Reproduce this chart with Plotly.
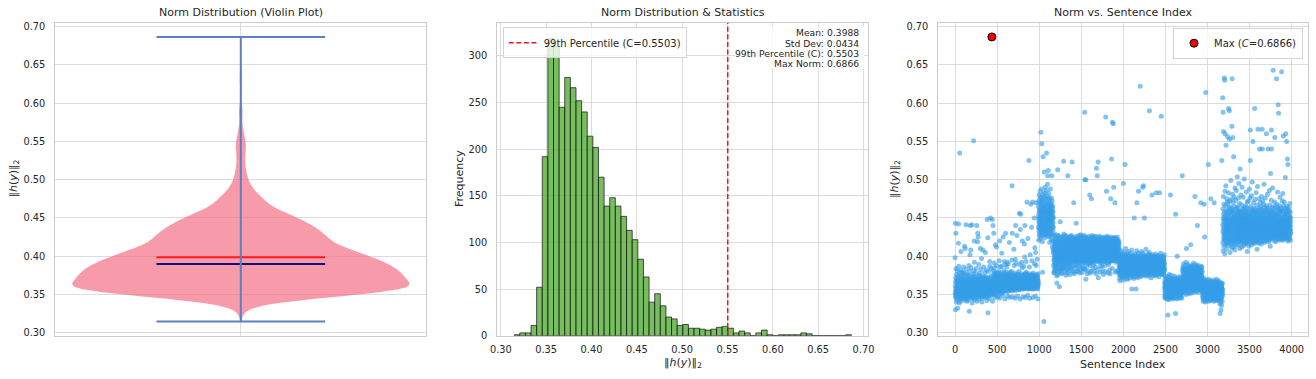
import numpy as np
import plotly.graph_objects as go

# ------------------------------------------------------------------ data
# Histogram of ||h(y)||_2 : 60 equal bins starting at the minimum norm
BIN_START = 0.3147
BIN_WIDTH = 0.0062
HIST_COUNTS = [1, 3, 3, 11, 52, 192, 319, 310, 245, 277,
               266, 252, 240, 214, 202, 170, 139, 148, 139, 128,
               113, 103, 82, 63, 36, 45, 32, 20, 18, 11,
               12, 8, 8, 7, 6, 7, 9, 10, 8, 3,
               5, 3, 0, 3, 6, 1, 0, 1, 1, 1,
               1, 3, 2, 0, 0, 0, 0, 0, 0, 1]

# Summary statistics (from the figure's text box)
NORM_MEAN = 0.3988
NORM_STD = 0.0434
NORM_P99 = 0.5503
NORM_MAX = 0.6866
NORM_MIN = 0.3147
NORM_MEDIAN = 0.3898

# Norm per sentence.
# Each code is (norm - 0.300) * 1000; every segment starts at the given sentence index.
SEG_START = [0, 450, 990, 1170, 1950, 2490, 2700, 2940, 3180]

SEG_A1 = """
98 52 61 30 143 47 66 55 72 49 130 58 84 44 57 69 51 40 76 54 48 65 59 53 81 62 50 56 70 45
57 32 64 51 59 74 46 62 55 67 117 142 53 87 49 71 58 43 65 39 61 78 56 48 63 235 54 68 50 59
62 47 56 73 53 66 41 82 64 50 106 57 69 52 61 46 58 75 54 79 49 60 67 55 44 71 57 52 64 58
51 63 57 70 48 61 54 79 59 45 66 52 86 56 73 50 58 64 47 77 55 68 53 113 57 49 65 61 42 56
110 55 67 50 59 63 46 72 57 53 141 61 48 66 83 52 77 56 63 44 60 54 69 51 41 57 47 74 59 65
53 60 46 68 56 62 50 75 58 43 64 55 71 49 88 57 66 52 59 28 63 48 70 80 54 67 51 102 58 61
140 58 64 51 57 70 108 47 85 55 66 53 60 73 49 58 65 56 45 61 141 52 68 39 63 50 76 55 62 57
61 49 66 56 72 53 59 45 64 58 251 51 69 81 62 48 74 55 120 60 92 52 58 43 63 70 56 61 50 67
56 62 53 78 59 47 65 57 51 68 84 54 71 46 63 58 52 66 140 55 61 49 73 41 64 53 59 119 50 62
130 53 67 58 125 49 62 55 71 57 44 64 89 52 69 56 61 48 75 58 54 65 51 78 63 57 70 47 62 55
110 58 63 50 66 56 83 73 53 59 47 68 55 62 57 97 52 64 49 40 58 71 54 65 59 45 62 56 67 53
108 60 55 69 52 63 58 47 74 86 61 53 66 59 50 64 57 72 54 62 48 67 55 79 63 51 70 57 61 105
57 51 64 59 70 54 61 46 66 58 55 73 52 82 63 49 68 57 62 42 59 65 148 50 71 56 62 53 58 124
26 58 62 55 67 50 60 80 72 53 64 48 59 66 56 61 45 69 58 63 52 93 55 87 57 68 51 64 59 54
61 150 57 66 52 63 58 74 55 84 49 67 56 62 53 70 59 386.6 57 64 51 61 148 68 55 41 63 50 66 57
"""

SEG_A2 = """
140 67 58 74 62 81 55 69 64 52 130 71 60 77 91 57 63 85 59 70 65 50 73 46 68 56 79 64 60 72
115 63 70 57 66 76 60 53 68 64 72 58 112 61 88 55 74 62 69 48 65 71 59 78 63 56 70 47 61 75
64 59 73 66 54 69 62 80 57 67 63 75 60 71 52 94 68 58 77 63 120 45 70 55 66 73 59 64 86 62
69 56 65 72 61 78 58 67 63 51 74 87 60 70 57 104 64 62 68 55 71 65 59 76 49 66 53 72 60 67
125 61 70 64 57 75 66 60 81 63 69 54 72 65 59 93 62 78 56 68 63 71 58 74 44 61 89 64 57 70
130 65 59 72 62 68 55 76 64 70 61 58 79 66 86 73 57 67 60 92 65 71 62 54 69 48 75 59 68 63
66 72 60 90 58 77 63 69 55 71 65 61 74 67 59 118 62 70 64 57 73 46 60 68 63 79 56 71 65 62
62 69 57 74 65 60 71 63 67 58 80 64 70 61 95 55 73 192 68 62 130 59 76 47 69 61 72 56 67 63
71 64 60 68 75 58 66 62 109 65 70 57 73 88 61 69 66 78 59 64 71 55 68 45 74 60 67 96 63 70
140 61 72 91 59 70 64 76 57 68 63 73 60 65 127 62 69 58 74 66 61 71 48 56 77 63 67 60 72 65
63 70 58 67 73 61 65 59 80 64 69 62 56 75 156 89 60 71 63 68 57 74 65 44 70 64 135 59 67 62
155 66 61 73 64 58 69 63 77 60 71 92 62 68 57 74 66 60 85 64 120 67 59 72 63 70 61 47 58 75
60 73 65 62 69 57 76 87 61 70 66 59 72 63 116 67 60 68 99 65 140 62 74 58 67 46 71 60 78 66
68 62 75 60 93 71 58 64 79 63 69 61 73 65 171 60 67 62 76 59 70 49 57 72 66 63 123 68 61 74
64 71 59 67 62 74 66 60 225 70 63 77 58 86 72 61 68 45 57 73 66 62 102 69 60 75 63 67 59 71
168 63 70 66 58 73 61 69 64 138 60 67 72 94 65 59 76 63 70 57 68 171 64 61 74 46 60 71 63 78
65 60 72 63 68 58 75 66 61 70 150 64 57 73 90 62 69 60 111 65 71 63 59 74 48 62 68 105 61 70
170 67 62 71 88 59 76 63 68 61 73 66 58 70 65 96 62 67 60 74 64 69 57 72 44 61 77 63 68 65
"""

SEG_B = """
152 138 165 121 147 171 133 156 142 180 127 161 149 136 174 144 158 129 168 151 139 185 146 123 160 153 134 177 141 163
262 148 131 170 155 143 188 126 159 137 247 150 166 132 176 145 157 119 172 140 79 163 135 154 181 230 142 167 128 158
149 173 137 161 144 14.7 156 130 178 152 210 139 165 124 183 147 159 134 169 143 155 190 128 162 151 138 175 146 133 166
141 157 186 131 164 150 136 235 172 145 160 127 179 153 140 168 132 158 194 147 205 138 163 151 129 176 144 156 212 135
170 148 125 161 154 139 182 146 133 167 158 142 175 118 152 163 137 149 171 130 156 144 188 126 160 151 135 165 143 157
131 168 147 155 122 176 140 159 136 164 205 150 128 172 145 157 112 162 139 153 166 120 149 134 158 143 107 151 138 129
"""

SEG_C = """
104 88 121 95 110 79 116 99 78 91 107 113 85 126 101 94 118 108 82 103 81 97 114 90 123 105 87 111 98 119
96 115 84 107 128 100 92 119 106 74 65 112 98 124 89 103 117 95 76 110 213 86 101 122 93 114 105 81 127 99
111 93 126 103 87 118 100 79 96 109 60 121 90 106 115 83 102 95 97 113 145 92 108 120 85 104 116 99 83 94
117 101 89 124 106 95 77 110 84 103 121 98 112 78 107 126 93 115 102 119 88 109 84 97 114 104 91 123 100 86
224 108 96 129 103 117 90 112 125 99 106 83 120 101 114 95 80 109 87 118 104 127 93 111 100 122 98 115 75 89
102 119 94 110 126 85 107 116 99 123 113 91 105 78 97 118 102 88 124 108 205 96 114 103 82 92 110 120 81 106
113 98 121 106 90 97 101 115 94 109 119 87 104 125 99 112 76 96 108 117 103 92 126 110 97 116 84 122 105 100
91 114 103 127 98 110 86 120 107 116 223 101 124 95 111 104 81 93 118 99 109 123 88 106 119 102 79 97 113 105
170 102 117 94 111 122 99 108 77 96 114 89 125 103 110 97 120 106 85 116 101 93 93 109 118 100 123 95 112 143
100 124 107 92 115 104 119 97 80 110 87 113 102 126 95 108 121 99 111 80 117 104 83 96 106 122 101 114 90 118
107 96 120 111 99 127 103 116 92 109 124 101 88 115 106 78 98 112 119 94 105 128 100 113 97 121 83 110 125 103
119 104 94 123 108 100 117 90 113 79 97 106 121 102 115 86 111 126 99 109 120 95 114 103 84 92 107 118 101 111
98 116 105 121 93 112 127 100 109 84 288 200 119 96 114 103 124 91 108 82 99 115 106 122 70 200 101 117 94 110
125 99 113 106 120 88 110 101 77 97 116 104 123 93 107 118 100 95 95 112 105 81 98 114 102 121 90 109 117 103
106 122 97 114 101 126 92 111 118 99 180 108 121 95 113 104 78 88 116 102 110 124 96 107 80 100 115 93 119 105
175 103 118 95 110 124 99 106 114 91 127 102 117 98 109 121 94 113 104 84 97 111 125 100 116 89 108 120 96 112
101 115 108 123 94 111 99 80 105 117 92 109 120 103 114 97 126 100 112 86 118 106 122 95 110 77 102 116 98 107
215 98 112 121 96 108 117 101 125 93 205 114 103 119 99 110 83 95 107 116 223 100 72 113 104 122 97 111 118 102
114 101 123 97 109 118 92 112 126 100 106 115 94 121 103 79 98 110 117 87 113 104 124 99 108 119 95 111 102 92
103 117 95 110 122 99 113 106 87 120 101 116 97 81 105 111 93 119 104 124 96 109 115 100 76 107 98 118 103 112
97 109 120 102 114 93 125 106 117 99 111 88 122 104 113 100 80 95 108 119 282 101 116 94 110 123 98 114 105 121
185 100 111 124 96 107 118 103 114 91 126 99 109 120 102 115 94 112 78 105 97 117 106 121 100 113 89 110 124 98
108 119 99 113 105 82 94 110 116 101 122 96 112 107 77 100 118 93 109 125 175 103 114 97 120 106 111 94 99 227
102 115 96 121 108 99 117 105 84 94 275 112 103 119 98 110 123 101 114 95 273 107 118 100 124 190 96 113 106 120
111 98 124 103 116 95 109 121 100 113 170 106 97 118 104 79 99 112 119 92 108 115 101 123 96 110 117 103 81 105
99 113 106 122 94 117 103 110 125 97 115 101 108 120 95 112 106 119 100 80 93 114 104 121 98 111 118 102 109 116
"""

SEG_D = """
88 76 97 83 92 71 101 85 79 94 87 68 99 81 90 77 104 86 74 93 82 96 89 75 91 84 107 80 95 86
93 81 74 99 86 90 78 103 84 95 72 88 97 80 91 85 76 100 83 92 195 79 94 87 69 98 82 90 105 77
85 97 80 91 76 102 88 83 95 73 220 89 99 81 93 78 86 110 84 92 75 96 87 79 101 90 82 94 71 88
96 79 89 84 104 77 92 86 98 81 74 95 87 91 70 100 83 97 78 93 88 82 106 85 76 94 89 80 99 86
82 93 101 76 88 95 80 90 85 72 97 84 91 79 103 87 78 94 83 99 89 74 92 86 81 96 77 108 85 90
57 86 79 96 90 83 99 75 88 93 81 102 84 77 95 89 73 91 86 98 80 94 87 71 100 82 92 85 97 78
150 91 84 97 76 89 82 103 87 94 79 86 99 73 92 85 96 81 88 78 57 93 83 100 89 76 95 84 90 107
170 80 94 86 101 78 91 84 97 72 89 95 82 88 99 75 92 85 80 104 185 87 93 78 96 83 90 74 98 86
92 85 78 96 83 100 89 76 94 87 322 81 98 84 91 73 95 88 79 102 86 93 77 90 97 82 106 85 91 80
84 97 88 79 93 86 75 99 82 91 190 85 96 78 104 87 92 80 89 95 192 83 98 76 90 85 94 81 100 87
150 88 81 95 86 92 77 98 84 90 79 101 87 93 74 96 83 89 109 80 94 86 78 97 91 82 99 85 76 93
89 95 80 87 97 83 91 76 100 86 93 79 88 96 82 103 85 90 74 94 87 81 98 84 92 78 95 88 83 105
290 83 96 88 79 92 85 99 81 94 87 76 101 90 84 97 80 89 93 72 96 86 82 100 88 91 78 95 85 98
180 90 84 97 78 93 86 81 102 88 95 79 91 85 99 83 96 75 89 94 82 87 100 80 92 86 97 84 77 91
95 81 88 100 85 91 77 96 83 89 74 98 86 92 80 103 87 94 79 90 183 85 97 82 93 88 76 99 84 96
87 93 82 98 89 76 95 84 91 80 97 86 101 83 88 94 78 92 85 99 81 96 87 73 94 90 83 100 86 79
183 86 95 80 91 84 99 88 77 96 82 93 87 104 81 90 95 78 89 85 283 92 80 97 84 91 86 76 98 88
91 84 97 79 88 95 82 100 86 93 78 90 87 96 81 99 85 92 76 94 89 83 98 80 93 87 102 84 90 82
"""

SEG_E1 = """
58 66 47 62 54 71 50 60 45 64 57 74 52 61 48 67 55 63 69 46 59 65 51 62 56 72 53 44 62 57
61 50 68 56 45 64 53 70 49 59 23 66 54 48 63 58 73 51 60 43 57 67 52 62 55 76 50 61 58 47
64 53 59 48 70 57 52 66 46 62 180 56 51 68 45 60 57 75 53 59 64 49 62 55 71 58 47 61 54 66
52 63 58 69 47 60 55 65 44 59 53 72 50 61 57 67 48 58 63 54 70 56 49 66 59 46 62 57 74 52
58 49 64 55 68 51 60 57 65 46 25 155 59 53 71 48 58 63 55 67 50 61 57 44 64 54 59 69 51 62
100 56 50 66 59 47 63 55 72 52 60 57 65 48 58 54 70 59 45 62 56 68 53 61 57 49 64 58 51 73
55 63 48 59 66 53 61 57 46 65 58 51 69 56 62 47 60 54 71 58 50 64 55 60 45 67 57 53 62 59
"""

SEG_E2 = """
205 72 58 81 65 53 86 70 62 77 56 83 68 74 60 90 64 71 55 79 67 61 84 73 57 76 66 70 63 82
65 76 55 84 70 61 79 52 73 88 64 69 59 81 75 50 77 68 92 60 110 72 63 80 66 55 85 74 58 76
68 80 60 75 53 83 71 64 89 57 74 66 78 62 70 85 56 76 67 59 81 65 72 51 87 69 77 61 71 63
74 58 82 66 76 60 79 54 72 86 115 67 63 78 57 84 70 65 75 52 80 73 59 88 67 78 61 71 56 83
65 75 69 81 58 77 62 87 71 55 73 82 64 68 91 60 76 70 57 80 63 74 66 84 53 72 79 62 69 85
178 70 59 78 65 74 56 82 69 76 61 89 71 58 80 66 75 60 86 68 54 77 72 64 81 59 70 87 65 74
140 63 80 69 57 83 72 65 76 59 88 70 62 78 67 53 82 73 64 71 56 84 68 77 60 75 66 81 58 72
67 77 61 84 70 57 75 65 81 60 170 71 79 64 87 58 74 69 55 82 66 76 60 73 86 63 70 56 80 65
"""

SEG_E3 = """
56 48 63 52 70 45 59 66 41 54 61 50 67 57 44 62 53 71 47 58 168 51 64 43 60 55 125 49 65 57
52 62 46 68 55 40 59 64 50 57 314 47 61 53 69 44 58 63 51 56 66 42 60 54 48 65 57 50 62 45
59 53 67 46 61 56 43 64 51 58 220 49 63 55 70 41 57 62 48 54 66 52 60 45 58 64 50 55 61 47
62 54 45 60 52 68 49 57 63 42 175 55 59 47 65 53 61 44 58 50 67 56 48 63 51 59 46 62 54 57
50 64 55 43 61 57 48 66 52 59 45 62 54 69 47 58 53 63 41 56 170 51 60 46 65 55 49 61 53 58
57 46 63 52 59 44 67 54 49 61 56 42 64 51 58 47 62 55 70 48 53 60 45 57 66 50 59 43 55 62
48 60 54 65 43 57 51 63 46 59 55 68 50 42 61 53 58 47 64 56 44 62 52 57 49 66 54 38 60 51
25 56 63 48 59 45 61 53 40 57 30 64 50 55 44 62 52 58 36 60 225 47 63 54 41 57 65 49 56 52
"""

SEG_F = """
307 141 118 162 132 288 107 149 136 178 263 124 155 113 145 168 129 151 121 140 333 127 158 134 103 330 147 137 185 122
260 153 128 143 115 166 124 139 192 130 245 148 119 157 135 109 150 133 175 141 126 160 117 146 131 171 136 121 154 139
256 125 144 169 118 138 152 131 183 122 293 142 158 114 134 147 128 163 139 120 290 149 253 124 172 135 145 105 156 130
143 121 164 133 116 153 137 199 127 146 131 174 119 140 157 125 145 111 162 134 270 150 332 123 141 160 132 181 118 148
255 139 126 156 144 112 170 133 123 151 230 137 159 120 143 130 177 116 148 135 127 165 142 108 154 131 146 189 124 140
152 125 145 134 173 118 150 138 129 161 114 147 133 186 122 155 140 127 151 136 119 164 143 130 204 124 152 137 158 128
135 163 121 148 130 156 141 115 176 133 126 152 137 195 119 158 142 129 147 123 169 134 144 110 155 139 125 214 149 131
146 127 159 136 117 153 142 131 180 122 149 138 157 120 135 167 129 143 112 151 137 190 126 147 134 162 123 141 156 130
140 156 124 147 133 177 119 150 137 130 160 114 144 136 154 126 142 201 121 149 132 164 117 145 138 128 158 123 151 134
126 149 138 166 120 143 132 155 116 148 135 184 124 141 159 130 146 118 153 137 127 171 142 106 150 133 163 122 144 136
157 131 122 148 140 172 117 137 152 128 145 123 161 134 113 155 139 127 188 147 132 119 153 138 176 125 143 130 150 225
265 136 152 124 144 165 129 140 120 157 137 148 126 179 133 115 154 142 131 161 122 146 138 197 128 150 118 159 139 132
250 142 125 158 136 147 119 170 131 149 139 123 155 144 128 163 117 137 151 133 293 124 147 140 174 130 156 121 145 138
148 132 161 126 142 156 120 139 183 134 150 118 144 159 129 137 123 153 143 109 167 133 149 125 191 140 157 122 136 146
266 138 128 151 124 160 143 134 117 154 145 129 175 137 121 150 140 132 163 126 240 146 135 156 119 142 170 131 148 138
133 154 144 122 165 137 127 147 116 158 139 178 125 143 152 131 161 120 140 149 266 240 134 155 126 145 138 172 129 150
143 124 159 135 150 129 168 120 144 137 156 126 194 140 133 148 118 157 139 130 164 123 147 134 153 141 125 176 137 145
132 151 138 122 160 143 127 149 135 166 260 125 154 140 120 146 137 162 131 150 141 122 181 139 148 129 157 124 142 135
240 136 147 128 155 141 123 162 133 150 139 119 158 144 129 186 138 122 153 145 132 167 126 149 136 113 155 140 134 208
149 131 160 139 125 154 142 134 173 128 265 240 145 137 157 123 151 141 132 164 124 147 138 189 130 158 143 127 150 136
343 141 125 152 137 146 130 163 121 150 139 133 157 127 147 140 171 129 145 136 255 124 154 142 134 165 128 148 138 119
138 155 129 147 124 160 140 134 151 127 332 144 135 168 122 149 139 131 158 142 126 146 137 184 129 153 142 133 163 123
298 134 153 141 125 287 144 132 161 127 148 138 121 156 145 129 166 137 123 151 140 131 177 126 147 139 159 130 143 136
146 127 157 138 130 150 141 124 163 134 341 145 128 154 137 122 148 139 172 132 140 125 160 144 129 182 136 151 121 143
257 140 124 158 134 147 129 166 138 126 152 143 133 171 123 149 137 141 128 162 139 130 155 146 125 203 135 148 132 154
260 129 151 138 124 160 143 132 155 140 250 126 147 136 165 131 145 122 157 139 227 141 134 150 128 220 161 137 120 146
137 156 128 147 141 131 164 124 150 138 144 129 159 135 123 152 142 133 169 127 148 139 130 157 140 121 151 135 145 131
"""

SEG_CODES = [SEG_A1, SEG_A2, SEG_B, SEG_C, SEG_D, SEG_E1, SEG_E2, SEG_E3, SEG_F]

TICKS_NORM = [0.30, 0.35, 0.40, 0.45, 0.50, 0.55, 0.60, 0.65, 0.70]
TICKS_FREQ = [0, 50, 100, 150, 200, 250, 300]
TICKS_INDEX = [0, 500, 1000, 1500, 2000, 2500, 3000, 3500, 4000]

# ------------------------------------------------------------------ derived
sent_idx, sent_norm = [], []
for start, codes in zip(SEG_START, SEG_CODES):
    vals = [0.300 + float(c) / 1000.0 for c in codes.split()]
    sent_idx.extend(range(start, start + len(vals)))
    sent_norm.extend(vals)
sent_idx = np.array(sent_idx)
sent_norm = np.array(sent_norm)
imax = int(np.argmax(sent_norm))

bin_centers = BIN_START + BIN_WIDTH * (np.arange(len(HIST_COUNTS)) + 0.5)
violin_samples = np.repeat(bin_centers, HIST_COUNTS)

# ------------------------------------------------------------------ layout geometry
W, H = 1316, 379
def px(x):
    return x / W
def py(y):
    return 1 - y / H

DOM_Y = [py(335.7), py(22.7)]
DOM_X1 = [px(55.3), px(426.3)]
DOM_X2 = [px(497.3), px(868.2)]
DOM_X3 = [px(938.3), px(1307.5)]

NORM_RANGE = [NORM_MIN - 0.05 * (NORM_MAX - NORM_MIN), NORM_MAX + 0.05 * (NORM_MAX - NORM_MIN)]
n_sent = len(sent_idx)
IDX_RANGE = [-0.05 * (n_sent - 1), 1.05 * (n_sent - 1)]

TEXT = '#262626'
GRID = '#dcdcdc'
SPINE = '#cccccc'
FONT = 'DejaVu Sans'

BLUE_LINE = '#5b7fc0'
VIOLIN_FILL = 'rgba(244,112,136,0.70)'
BAR_FILL = 'rgba(88,176,58,0.82)'
POINT_BLUE = 'rgba(54,158,232,0.62)'

fig = go.Figure()

# ---- violin panel
fig.add_trace(go.Violin(
    y=violin_samples, x0=1, width=0.5, bandwidth=NORM_STD * len(violin_samples) ** (-0.2),
    spanmode='manual', span=[NORM_MIN, NORM_MAX], points=False,
    fillcolor=VIOLIN_FILL, line=dict(color='rgba(244,112,136,0.0)', width=0),
    box_visible=False, meanline_visible=False, showlegend=False, hoverinfo='skip',
    xaxis='x', yaxis='y'))
fig.add_trace(go.Scatter(x=[0.875, 1.125], y=[NORM_MEAN, NORM_MEAN], mode='lines',
                         line=dict(color='#ff1a1a', width=2), showlegend=False, xaxis='x', yaxis='y'))
fig.add_trace(go.Scatter(x=[0.875, 1.125], y=[NORM_MEDIAN, NORM_MEDIAN], mode='lines',
                         line=dict(color='#10107a', width=2), showlegend=False, xaxis='x', yaxis='y'))
fig.add_trace(go.Scatter(x=[1, 1], y=[NORM_MIN, NORM_MAX], mode='lines',
                         line=dict(color=BLUE_LINE, width=2), showlegend=False, xaxis='x', yaxis='y'))
for v in (NORM_MIN, NORM_MAX):
    fig.add_trace(go.Scatter(x=[0.875, 1.125], y=[v, v], mode='lines',
                             line=dict(color=BLUE_LINE, width=2), showlegend=False, xaxis='x', yaxis='y'))

# ---- histogram panel
fig.add_trace(go.Bar(x=bin_centers, y=HIST_COUNTS, width=BIN_WIDTH,
                     marker=dict(color=BAR_FILL, line=dict(color='rgba(20,20,20,0.8)', width=0.9)),
                     showlegend=False, xaxis='x2', yaxis='y2'))
fig.add_trace(go.Scatter(x=[NORM_P99, NORM_P99], y=[0, 400], mode='lines',
                         line=dict(color='#e41a1c', width=1.5, dash='5px,2.6px'),
                         name='99th Percentile (C=%.4f)' % NORM_P99,
                         legend='legend', xaxis='x2', yaxis='y2'))

# ---- scatter panel
fig.add_trace(go.Scatter(x=sent_idx, y=sent_norm, mode='markers',
                         marker=dict(color=POINT_BLUE, size=5, line=dict(width=0)),
                         showlegend=False, xaxis='x3', yaxis='y3'))
fig.add_trace(go.Scatter(x=[sent_idx[imax]], y=[sent_norm[imax]], mode='markers',
                         marker=dict(color='#ff0000', size=8, line=dict(color='black', width=1)),
                         name='Max (<i>C</i>=%.4f)' % NORM_MAX, legend='legend2',
                         xaxis='x3', yaxis='y3'))

axis_common = dict(showline=True, linecolor=SPINE, linewidth=1.2, mirror=True,
                   showgrid=True, gridcolor=GRID, gridwidth=1, zeroline=False,
                   ticks='outside', tickcolor='rgba(0,0,0,0)', automargin=False,
                   tickfont=dict(family=FONT, size=9.8, color=TEXT))

fig.update_layout(
    width=W, height=H, margin=dict(l=0, r=0, t=0, b=0, autoexpand=False),
    paper_bgcolor='white', plot_bgcolor='white',
    font=dict(family=FONT, color=TEXT),
    xaxis=dict(axis_common, domain=DOM_X1, range=[0.725, 1.275], type='linear',
               tickvals=[1], showticklabels=False, ticklen=0, anchor='y'),
    yaxis=dict(axis_common, domain=DOM_Y, range=NORM_RANGE, tickvals=TICKS_NORM,
               tickformat='.2f', ticklen=7, anchor='x'),
    xaxis2=dict(axis_common, domain=DOM_X2, range=NORM_RANGE, tickvals=TICKS_NORM,
                tickformat='.2f', ticklen=4, anchor='y2'),
    yaxis2=dict(axis_common, domain=DOM_Y, range=[0, 335.7], tickvals=TICKS_FREQ,
                ticklen=7, anchor='x2'),
    xaxis3=dict(axis_common, domain=DOM_X3, range=IDX_RANGE, tickvals=TICKS_INDEX,
                ticklen=4, anchor='y3'),
    yaxis3=dict(axis_common, domain=DOM_Y, range=NORM_RANGE, tickvals=TICKS_NORM,
                tickformat='.2f', ticklen=7, anchor='x3'),
    legend=dict(x=px(502.7), y=py(27.3), xanchor='left', yanchor='top',
                bgcolor='rgba(255,255,255,0.8)', bordercolor='#d4d4d4', borderwidth=1,
                font=dict(family=FONT, size=10, color=TEXT), itemwidth=30),
    legend2=dict(x=px(1303), y=py(27.7), xanchor='right', yanchor='top',
                 bgcolor='rgba(255,255,255,0.8)', bordercolor='#d4d4d4', borderwidth=1,
                 font=dict(family=FONT, size=10, color=TEXT), itemwidth=30),
    showlegend=True,
)

# stats text box
fig.add_shape(type='rect', xref='paper', yref='paper',
              x0=px(735), x1=px(864), y0=py(68.5), y1=py(26.5),
              fillcolor='rgba(255,255,255,0.8)', line=dict(width=0), layer='above')
stat_lines = ['Mean: %.4f' % NORM_MEAN, 'Std Dev: %.4f' % NORM_STD,
              '99th Percentile (C): %.4f' % NORM_P99, 'Max Norm: %.4f' % NORM_MAX]
for i, t in enumerate(stat_lines):
    fig.add_annotation(text=t, xref='paper', yref='paper', x=px(860.5), y=py(32.8 + 10.2 * i),
                       xanchor='right', yanchor='middle', showarrow=False,
                       font=dict(family=FONT, size=9.2, color=TEXT))

def label(text, x, y, size=11, angle=0):
    fig.add_annotation(text=text, xref='paper', yref='paper', x=px(x), y=py(y),
                       xanchor='center', yanchor='middle', showarrow=False, textangle=angle,
                       font=dict(family=FONT, size=size, color=TEXT))

NORM_LABEL = '‖<i>h</i>(<i>y</i>)‖<sub>2</sub>'
label('Norm Distribution (Violin Plot)', 240.8, 12.5)
label('Norm Distribution &amp; Statistics', 682.7, 12.5)
label('Norm vs. Sentence Index', 1123, 12.5)
label(NORM_LABEL, 13.5, 179, angle=-90)
label('Frequency', 459, 179, angle=-90)
label(NORM_LABEL, 895, 179, angle=-90)
label(NORM_LABEL, 682.7, 363)
label('Sentence Index', 1123, 364.3)

# remove the default 8px page margin so the 1316x379 figure fills the window exactly
fig.write_html('out.html', config={'displayModeBar': False},
               post_script="document.body.style.margin='0px';document.body.style.overflow='hidden';")
